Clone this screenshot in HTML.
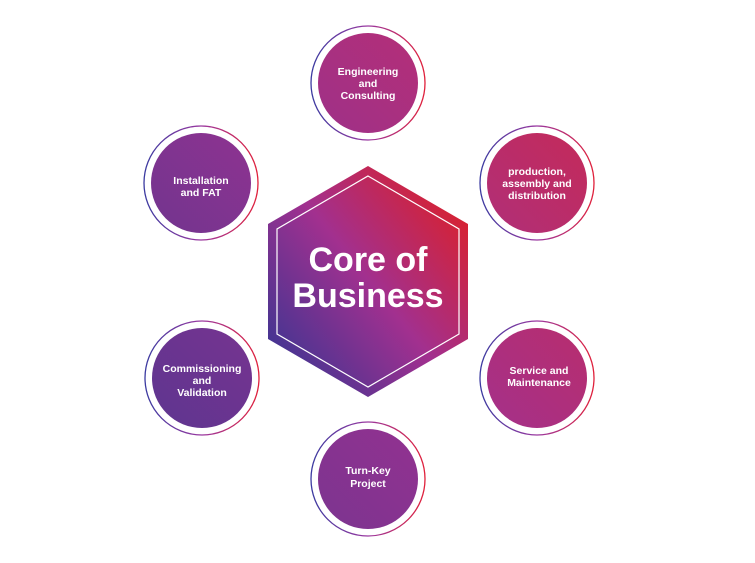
<!DOCTYPE html>
<html><head><meta charset="utf-8"><style>
html,body{margin:0;padding:0;background:#fff;}
svg{display:block;}
text{font-family:"Liberation Sans",Arial,sans-serif;font-weight:bold;fill:#fff;text-anchor:middle;}
</style></head><body>
<svg width="755" height="563" viewBox="0 0 755 563" xmlns="http://www.w3.org/2000/svg">
<defs>
<linearGradient id="hex" x1="268" y1="360" x2="468" y2="200" gradientUnits="userSpaceOnUse">
<stop offset="0" stop-color="#3d3592"/>
<stop offset="0.5" stop-color="#a2308f"/>
<stop offset="1" stop-color="#dc2028"/>
</linearGradient>
<linearGradient id="ring" x1="0" y1="0" x2="1" y2="0">
<stop offset="0" stop-color="#3a3aa0"/>
<stop offset="0.5" stop-color="#9a38a0"/>
<stop offset="1" stop-color="#e0203a"/>
</linearGradient>
<linearGradient id="c1" x1="0" y1="1" x2="1" y2="0"><stop offset="0" stop-color="#9e3088"/><stop offset="1" stop-color="#b42f78"/></linearGradient>
<linearGradient id="c2" x1="0" y1="1" x2="1" y2="0"><stop offset="0" stop-color="#b02f78"/><stop offset="1" stop-color="#c42a5a"/></linearGradient>
<linearGradient id="c3" x1="0" y1="1" x2="1" y2="0"><stop offset="0" stop-color="#72348f"/><stop offset="1" stop-color="#8e3390"/></linearGradient>
<linearGradient id="c4" x1="0" y1="1" x2="1" y2="0"><stop offset="0" stop-color="#5e3590"/><stop offset="1" stop-color="#763490"/></linearGradient>
<linearGradient id="c5" x1="0" y1="1" x2="1" y2="0"><stop offset="0" stop-color="#a4308a"/><stop offset="1" stop-color="#b82e6e"/></linearGradient>
<linearGradient id="c6" x1="0" y1="1" x2="1" y2="0"><stop offset="0" stop-color="#7c3490"/><stop offset="1" stop-color="#923290"/></linearGradient>
</defs>
<polygon points="368,166 468,224 468,339 368,397 268,339 268,224" fill="url(#hex)"/>
<polygon points="368,176 459,229 459,334 368,387 277,334 277,229" fill="none" stroke="#fff" stroke-width="1.2"/>
<text x="368" y="271" font-size="34">Core of</text>
<text x="368" y="307" font-size="34">Business</text>

<g>
<circle cx="368" cy="83" r="57" fill="none" stroke="url(#ring)" stroke-width="1.3"/>
<circle cx="368" cy="83" r="50" fill="url(#c1)"/>
<text x="368" y="75" font-size="10.5">Engineering</text>
<text x="368" y="87" font-size="10.5">and</text>
<text x="368" y="99" font-size="10.5">Consulting</text>
</g>
<g>
<circle cx="537" cy="183" r="57" fill="none" stroke="url(#ring)" stroke-width="1.3"/>
<circle cx="537" cy="183" r="50" fill="url(#c2)"/>
<text x="537" y="175" font-size="10.5">production,</text>
<text x="537" y="187" font-size="10.5">assembly and</text>
<text x="537" y="199" font-size="10.5">distribution</text>
</g>
<g>
<circle cx="201" cy="183" r="57" fill="none" stroke="url(#ring)" stroke-width="1.3"/>
<circle cx="201" cy="183" r="50" fill="url(#c3)"/>
<text x="201" y="184" font-size="10.5">Installation</text>
<text x="201" y="196" font-size="10.5">and FAT</text>
</g>
<g>
<circle cx="202" cy="378" r="57" fill="none" stroke="url(#ring)" stroke-width="1.3"/>
<circle cx="202" cy="378" r="50" fill="url(#c4)"/>
<text x="202" y="372" font-size="10.5">Commissioning</text>
<text x="202" y="384" font-size="10.5">and</text>
<text x="202" y="396" font-size="10.5">Validation</text>
</g>
<g>
<circle cx="537" cy="378" r="57" fill="none" stroke="url(#ring)" stroke-width="1.3"/>
<circle cx="537" cy="378" r="50" fill="url(#c5)"/>
<text x="539" y="374" font-size="10.5">Service and</text>
<text x="539" y="386" font-size="10.5">Maintenance</text>
</g>
<g>
<circle cx="368" cy="479" r="57" fill="none" stroke="url(#ring)" stroke-width="1.3"/>
<circle cx="368" cy="479" r="50" fill="url(#c6)"/>
<text x="368" y="474" font-size="10.5">Turn-Key</text>
<text x="368" y="487" font-size="10.5">Project</text>
</g>
</svg>
</body></html>
